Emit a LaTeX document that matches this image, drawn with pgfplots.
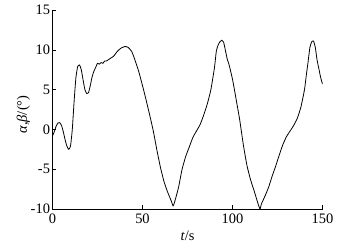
\documentclass[border=0pt]{standalone}
\usepackage{pgfplots}
\pgfplotsset{compat=1.18}
\usepackage{fontspec}
\setmainfont{Liberation Serif}
\begin{document}
\begin{tikzpicture}[x=1bp,y=1bp]
\path[use as bounding box] (-52.5,-39) rectangle (309.5,209);
\begin{axis}[
  at={(0,0)}, anchor=south west,
  width=270bp, height=199bp, scale only axis,
  xmin=0, xmax=150, ymin=-10, ymax=15,
  axis lines=left, axis line style={-, line width=0.6pt},
  tick align=inside, major tick length=4bp,
  tick style={line width=0.5pt, black},
  xtick={0,50,100,150}, ytick={-10,-5,0,5,10,15},
  /pgf/number format/assume math mode=true,
  tick label style={font=\fontsize{14.5}{16}\selectfont},
  label style={font=\fontsize{14.5}{16}\selectfont},
  xticklabel style={yshift=-1.5bp},
  yticklabel style={xshift=1bp},
  xlabel={\textit{t}/s},
  ylabel={\textit{α},\textit{β}/(°)},
  xlabel style={yshift=0bp},
  ylabel style={yshift=-6bp, xshift=-5bp},
]
\addplot[black, line width=0.8pt, smooth, tension=0.3] coordinates {
(0,-0.8) (1,-0.3) (2,0.4) (3,0.8) (4,0.85) (5,0.5) (6,-0.3) (7,-1.3) (8,-2.1) (9,-2.5)
(10,-2.1) (11,0.0) (12,3.5) (13,6.5) (14,7.9) (15,8.1) (16,7.5) (17,6.2) (18,5.0) (19,4.5)
(20,4.6) (21,5.5) (22,6.6) (23,7.3) (24,7.8) (25,8.3) (26,8.2) (27,8.4) (28,8.3) (29,8.6)
(30,8.6) (32,8.9) (34,9.2) (36,9.8) (38,10.2) (40,10.4) (41,10.4) (42,10.3) (44,9.8) (46,8.6)
(48,7.2) (50,5.5) (52,3.7) (54,1.8) (56,-0.2) (58,-2.6) (60,-4.8) (62,-6.6) (64,-7.9) (66,-9.0)
(67,-9.6) (68,-9.0) (70,-7.3) (72,-5.0) (74,-3.4) (76,-2.2) (78,-1.0) (80,-0.2) (82,0.6) (84,1.8)
(86,3.2) (88,5.0) (90,7.8) (91,9.8) (92,10.6) (93,11.0) (94,11.2) (95,11.0) (96,10.0) (97,8.9)
(98,8.2) (100,6.3) (102,3.8) (104,1.2) (106,-1.9) (108,-4.5) (110,-6.3) (112,-7.7) (114,-9.2) (115.3,-10.0)
(116,-9.4) (118,-8.4) (120,-7.3) (122,-5.9) (124,-4.6) (126,-3.2) (128,-1.9) (130,-0.9) (132,-0.2) (134,0.5)
(136,1.4) (138,2.8) (140,5.0) (141,6.8) (142,8.5) (143,10.3) (144,11.0) (145,11.1) (146,10.3) (147,8.7)
(148,7.6) (149,6.5) (150,5.7)
};
\end{axis}
\end{tikzpicture}
\end{document}
